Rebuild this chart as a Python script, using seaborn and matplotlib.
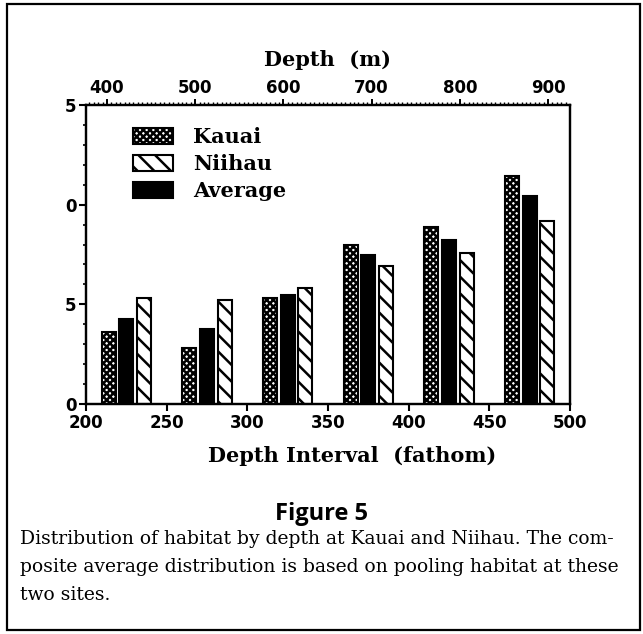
import numpy as np
import pandas as pd
import matplotlib
matplotlib.use('Agg')
import matplotlib.pyplot as plt
import matplotlib.patches as mpatches
from matplotlib.ticker import MultipleLocator, FixedLocator
import seaborn as sns

# ── Data ─────────────────────────────────────────────────────
depth_fathom = [225, 275, 325, 375, 425, 475]
kauai   = [3.6, 2.8, 5.3, 8.0, 8.9, 11.45]
average = [4.25, 3.75, 5.45, 7.5, 8.25, 10.45]
niihau  = [5.3, 5.2, 5.8, 6.9, 7.6, 9.2]
sites   = ['Kauai', 'Average', 'Niihau']
ytick_vals   = [0, 5, 10, 15]
ytick_labels = ['0', '5', '0', '5']   # left digits are cut off in the original
xtick_vals   = [200, 250, 300, 350, 400, 450, 500]
top_ticks_m  = [400, 500, 600, 700, 800, 900]

df = pd.DataFrame({
    'depth': depth_fathom * 3,
    'pct': kauai + average + niihau,
    'site': np.repeat(sites, len(depth_fathom)),
})

# ── Style ────────────────────────────────────────────────────
sns.set_style('ticks')
plt.rcParams.update({
    'hatch.linewidth': 1.8,
    'axes.linewidth': 1.6,
    'text.color': 'black',
    'axes.labelcolor': 'black',
    'axes.edgecolor': 'black',
    'xtick.color': 'black',
    'ytick.color': 'black',
    'font.family': ['DejaVu Sans'],
})
SERIF = 'DejaVu Serif'
TICKFONT = dict(family='DejaVu Sans', weight='bold', size=12)
HATCH = {'Kauai': 'xxxxx', 'Niihau': '\\\\', 'Average': None}
FACE = {'Kauai': 'white', 'Niihau': 'white', 'Average': 'black'}

fig = plt.figure(figsize=(6.43, 6.34), dpi=100)
ax = fig.add_axes([86 / 643, 1 - 404 / 634, 484 / 643, 299 / 634])

sns.barplot(data=df, x='depth', y='pct', hue='site', hue_order=sites,
            native_scale=True, width=0.66, gap=0.22, ax=ax,
            legend=False, err_kws={'linewidth': 0})

for cont, name in zip(ax.containers, sites):
    for b in cont:
        b.set_facecolor(FACE[name])
        b.set_edgecolor('black')
        b.set_linewidth(1.5)
        if HATCH[name]:
            b.set_hatch(HATCH[name])

ax.set_xlim(200, 500)
ax.set_ylim(0, 15)
ax.set_xticks(xtick_vals)
ax.set_xticklabels([str(v) for v in xtick_vals], **TICKFONT)
ax.set_yticks(ytick_vals)
ax.set_yticklabels(ytick_labels, **TICKFONT)
ax.yaxis.set_minor_locator(MultipleLocator(1))
ax.tick_params(axis='both', which='major', direction='out', length=5, width=1.5,
               pad=2, colors='black')
ax.tick_params(axis='y', which='minor', direction='out', length=2.5, width=1.2)
ax.set_xlabel('')
ax.set_ylabel('')
for s in ax.spines.values():
    s.set_visible(True)
    s.set_linewidth(1.6)
    s.set_color('black')

# top axis in metres (slightly offset in the original drawing)
top = ax.twiny()
top.set_xlim(200 * 1.8288 + 10.5, 500 * 1.8288 + 10.5)
top.xaxis.set_major_locator(FixedLocator(top_ticks_m))
top.set_xticklabels([str(v) for v in top_ticks_m], **TICKFONT)
top.xaxis.set_minor_locator(MultipleLocator(5))
top.tick_params(axis='x', which='major', direction='out', length=4, width=1.4, pad=2)
top.tick_params(axis='x', which='minor', direction='out', length=2, width=1.0)
top.set_xlabel('Depth  (m)', family=SERIF, weight='bold', fontsize=15, labelpad=9)

fig.text(352 / 643, 1 - 456 / 634, 'Depth Interval  (fathom)', ha='center',
         va='center', family=SERIF, weight='bold', fontsize=15)

# legend: Kauai, Niihau, Average
handles = [mpatches.Patch(facecolor=FACE[n], edgecolor='black', hatch=HATCH[n], lw=1.5)
           for n in ['Kauai', 'Niihau', 'Average']]
ax.legend(handles, ['Kauai', 'Niihau', 'Average'], loc='upper left',
          bbox_to_anchor=(0.08, 0.955), frameon=False, handlelength=1.9,
          handleheight=0.8, handletextpad=1.0, labelspacing=0.35,
          borderaxespad=0, prop=dict(family=SERIF, weight='bold', size=15))

# caption
fig.text(0.5, 1 - 514 / 634, 'Figure 5', ha='center', va='center',
         family='Open Sans', weight='bold', fontsize=17)
caption = ['Distribution of habitat by depth at Kauai and Niihau. The com-',
           'posite average distribution is based on pooling habitat at these',
           'two sites.']
for i, line in enumerate(caption):
    fig.text(20 / 643, 1 - (539 + 28 * i) / 634, line, ha='left', va='center',
             family=SERIF, fontsize=13.5)

# outer frame
fig.patches.append(mpatches.Rectangle((7 / 643, 4 / 634), 633 / 643, 626 / 634,
                                      transform=fig.transFigure, fill=False,
                                      edgecolor='black', linewidth=1.6))

fig.savefig('out.png', dpi=100, facecolor='white')
